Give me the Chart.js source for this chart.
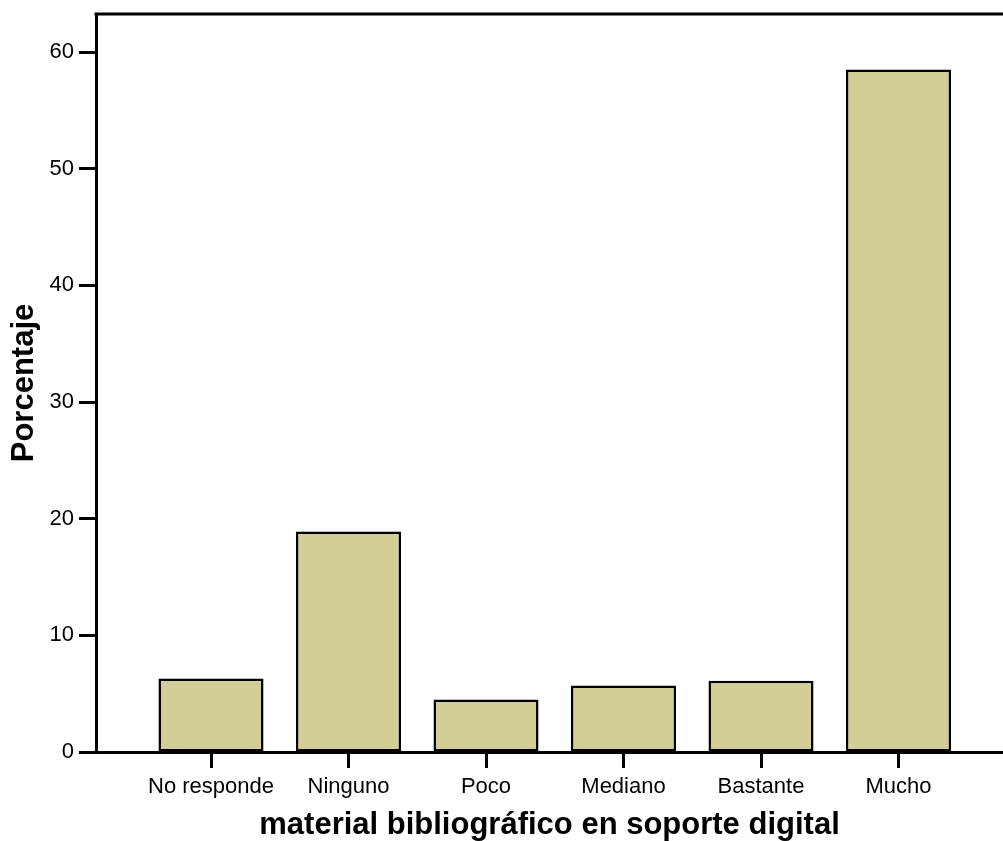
<!DOCTYPE html>
<html>
<head>
<meta charset="utf-8">
<script src="https://cdn.jsdelivr.net/npm/chart.js@4/dist/chart.umd.min.js"></script>
<style>
html,body{margin:0;padding:0;background:#fff;}
#wrap{width:1003px;height:841px;position:relative;}
</style>
</head>
<body>
<div id="wrap"><canvas id="c" width="1003" height="841"></canvas></div>
<script>
const categories = ["No responde", "Ninguno", "Poco", "Mediano", "Bastante", "Mucho"];
const percentages = [6.3, 18.9, 4.5, 5.7, 6.1, 58.5];
const yTickValues = [0, 10, 20, 30, 40, 50, 60];
const xTitle = "material bibliográfico en soporte digital";
const yTitle = "Porcentaje";

const points = categories.map((c, i) => ({x: i, y: percentages[i]}));

const topLine = {
  id: 'topLine',
  afterDraw(chart) {
    const {ctx, chartArea} = chart;
    ctx.save();
    ctx.strokeStyle = '#000';
    ctx.lineWidth = 3;
    ctx.beginPath();
    ctx.moveTo(chartArea.left - 1.5, chartArea.top);
    ctx.lineTo(chart.width, chartArea.top);
    ctx.stroke();
    ctx.restore();
  }
};

new Chart(document.getElementById('c'), {
  type: 'bar',
  data: {
    datasets: [{
      data: points,
      backgroundColor: '#d3cd96',
      borderColor: '#000',
      borderWidth: 2.5,
      borderSkipped: false,
      barPercentage: 0.764,
      categoryPercentage: 1.0
    }]
  },
  options: {
    responsive: false,
    animation: false,
    layout: {padding: {top: 14, right: 0, left: 0, bottom: 0}},
    plugins: {legend: {display: false}, tooltip: {enabled: false}},
    scales: {
      x: {
        type: 'linear',
        offset: false,
        min: -0.8364,
        max: 5.76,
        afterFit(scale) { scale.height = 89; scale.paddingLeft = 0; scale.paddingRight = 0; },
        afterBuildTicks(scale) { scale.ticks = categories.map((c, i) => ({value: i})); },
        ticks: {
          autoSkip: false,
          maxRotation: 0,
          includeBounds: false,
          padding: 6,
          color: '#000',
          font: {family: 'Liberation Sans, Arial, sans-serif', size: 22},
          callback: (v) => categories[v]
        },
        grid: {display: true, offset: false, drawOnChartArea: false, drawTicks: true, tickLength: 16, tickWidth: 3, tickColor: '#000'},
        border: {display: true, color: '#000', width: 3},
        title: {
          display: true, text: xTitle, color: '#000',
          font: {family: 'Liberation Sans, Arial, sans-serif', size: 31, weight: 'bold', lineHeight: 1},
          padding: {top: 0, bottom: 0}
        }
      },
      y: {
        type: 'linear',
        min: 0,
        max: 63.26,
        afterFit(scale) { scale.width = 96; scale.paddingTop = 0; scale.paddingBottom = 0; },
        afterBuildTicks(scale) { scale.ticks = yTickValues.map(v => ({value: v})); },
        ticks: {
          includeBounds: false,
          padding: 5,
          color: '#000',
          font: {family: 'Liberation Sans, Arial, sans-serif', size: 22}
        },
        grid: {display: true, drawOnChartArea: false, drawTicks: true, tickLength: 17, tickWidth: 3, tickColor: '#000'},
        border: {display: true, color: '#000', width: 3},
        title: {
          display: true, text: yTitle, color: '#000',
          font: {family: 'Liberation Sans, Arial, sans-serif', size: 31, weight: 'bold', lineHeight: 1},
          padding: {top: 9, bottom: 0}
        }
      }
    }
  },
  plugins: [topLine]
});
</script>
</body>
</html>
